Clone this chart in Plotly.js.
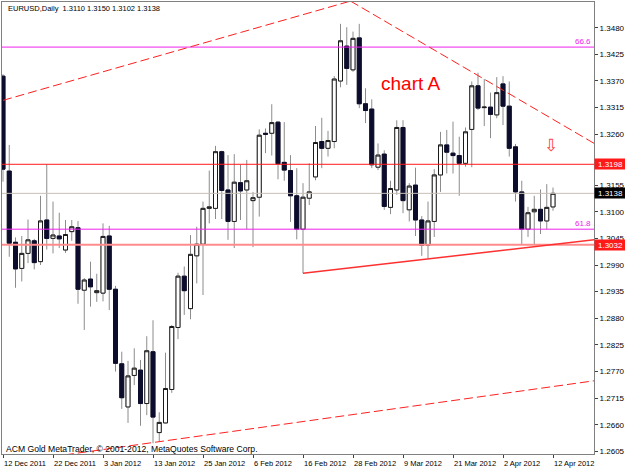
<!DOCTYPE html>
<html>
<head>
<meta charset="utf-8">
<script src="https://cdn.plot.ly/plotly-3.0.1.min.js"></script>
<style>html,body{margin:0;padding:0;background:#fff;}#chart{width:625px;height:469px;}</style>
</head>
<body>
<div id="chart"></div>
<script>
// ---- Daily EURUSD candles (12 Dec 2011 .. 12 Apr 2012) ----
const open  = [1.3380,1.3184,1.3037,1.2983,1.3014,1.3040,1.2997,1.3083,1.3045,1.3050,
               1.3021,1.3059,1.3067,1.2938,1.2961,1.2933,1.2932,1.3050,1.2940,1.2786,
               1.2697,1.2762,1.2773,1.2704,1.2811,1.2644,1.2664,1.2733,1.2861,1.2967,
               1.2900,1.3009,1.3033,1.3107,1.3107,1.3224,1.3145,1.3080,1.3160,1.3145,
               1.3123,1.3130,1.3262,1.3262,1.3285,1.3202,1.3185,1.3133,1.3064,1.3128,
               1.3172,1.3245,1.3231,1.3245,1.3370,1.3442,1.3393,1.3459,1.3323,1.3312,
               1.3192,1.3219,1.3109,1.3145,1.3274,1.3104,1.3155,1.3083,1.3031,1.3080,
               1.3176,1.3238,1.3221,1.3216,1.3200,1.3270,1.3360,1.3315,1.3316,1.3300,
               1.3364,1.3318,1.3234,1.3141,1.3064,1.3100,1.3105,1.3081,1.3110];
const high  = [1.3384,1.3238,1.3047,1.3050,1.3084,1.3044,1.3133,1.3198,1.3121,1.3098,
               1.3083,1.3083,1.3081,1.2963,1.2997,1.2972,1.3076,1.3071,1.2947,1.2811,
               1.2792,1.2818,1.2794,1.2843,1.2876,1.2686,1.2809,1.2866,1.2974,1.2987,
               1.3052,1.3069,1.3121,1.3185,1.3236,1.3226,1.3217,1.3219,1.3197,1.3207,
               1.3141,1.3270,1.3272,1.3322,1.3287,1.3285,1.3217,1.3190,1.3159,1.3200,
               1.3277,1.3294,1.3267,1.3380,1.3488,1.3481,1.3472,1.3488,1.3355,1.3332,
               1.3241,1.3227,1.3164,1.3289,1.3289,1.3159,1.3191,1.3091,1.3121,1.3188,
               1.3265,1.3269,1.3286,1.3255,1.3274,1.3369,1.3387,1.3374,1.3346,1.3378,
               1.3380,1.3369,1.3240,1.3164,1.3110,1.3133,1.3146,1.3157,1.3150];
const low   = [1.3162,1.3007,1.2943,1.2956,1.2994,1.2981,1.2990,1.3022,1.3014,1.3025,
               1.3015,1.3040,1.2910,1.2856,1.2904,1.2914,1.2915,1.2897,1.2770,1.2693,
               1.2664,1.2742,1.2658,1.2680,1.2622,1.2625,1.2663,1.2726,1.2837,1.2887,
               1.2878,1.2952,1.2928,1.3076,1.3085,1.3085,1.3042,1.3025,1.3083,1.3064,
               1.3027,1.3090,1.3221,1.3216,1.3167,1.3164,1.3079,1.3043,1.2973,1.3114,
               1.3165,1.3190,1.3214,1.3231,1.3357,1.3362,1.3389,1.3314,1.3283,1.3190,
               1.3186,1.3104,1.3095,1.3135,1.3097,1.3080,1.3050,1.3009,1.3004,1.3048,
               1.3141,1.3179,1.3179,1.3133,1.3193,1.3192,1.3310,1.3277,1.3252,1.3293,
               1.3279,1.3214,1.3121,1.3033,1.3048,1.3031,1.3054,1.3064,1.3102];
const close = [1.3188,1.3035,1.2982,1.3014,1.3042,1.2995,1.3081,1.3045,1.3052,1.3044,
               1.3053,1.3069,1.2940,1.2959,1.2945,1.2937,1.3049,1.2940,1.2787,1.2716,
               1.2761,1.2777,1.2704,1.2813,1.2676,1.2665,1.2735,1.2863,1.2967,1.2937,
               1.3012,1.3033,1.3107,1.3110,1.3224,1.3144,1.3080,1.3161,1.3143,1.3164,
               1.3129,1.3258,1.3260,1.3284,1.3199,1.3186,1.3133,1.3064,1.3130,1.3141,
               1.3243,1.3231,1.3247,1.3374,1.3453,1.3396,1.3458,1.3323,1.3309,1.3197,
               1.3217,1.3111,1.3148,1.3274,1.3123,1.3153,1.3083,1.3031,1.3081,1.3176,
               1.3238,1.3223,1.3216,1.3200,1.3265,1.3360,1.3314,1.3316,1.3301,1.3346,
               1.3318,1.3231,1.3141,1.3064,1.3098,1.3105,1.3081,1.3109,1.3138];

// ---- axis ticks ----
const dateTickIndex = [0, 8, 16, 24, 32, 40, 48, 56, 64, 72, 80, 88];
const dateTickLabels = ['12 Dec 2011','22 Dec 2011','3 Jan 2012','13 Jan 2012','25 Jan 2012','6 Feb 2012',
                        '16 Feb 2012','28 Feb 2012','9 Mar 2012','21 Mar 2012','2 Apr 2012','12 Apr 2012'];
const priceTicks = [1.3480,1.3425,1.3370,1.3315,1.3260,1.3205,1.3155,1.3100,1.3045,1.2990,
                    1.2935,1.2880,1.2825,1.2770,1.2715,1.2660,1.2605];

// ---- horizontal levels ----
const resistanceLevel = 1.3198;
const supportLevel = 1.3032;
const bidLevel = 1.3138;
const fibLevels = [1.3440, 1.3064];
const fibLabels = ['66.6', '61.8'];

// ---- trend lines (bar index, price) ----
const channelTopLeftX = [0, 55.6],     channelTopLeftY = [1.3330, 1.3535];
const channelTopRightX = [55.6, 94.6], channelTopRightY = [1.3535, 1.3241];
const channelBottomX = [9.9, 94.6],    channelBottomY = [1.2598, 1.2751];
const supportTrendX = [48, 94.6],      supportTrendY = [1.2973, 1.3042];

const titleText = 'EURUSD,Daily  1.3110 1.3150 1.3102 1.3138';
const copyrightText = 'ACM Gold MetaTrader, \u00a9 2001-2012, MetaQuotes Software Corp.';
const noteText = 'chart A';
const noteX = 60.2, noteY = 1.3364;
const arrowX = 87.6, arrowY = 1.3238;

const x = open.map((_, i) => i);
const bodyHigh = open.map((o, i) => Math.max(o, close[i]));
const bodyLow = open.map((o, i) => Math.min(o, close[i]));

const F = 'Liberation Sans, Arial, sans-serif';
const xr = [-0.16, 94.56];

const traces = [
  { type: 'candlestick', x, open, high, low, close, hoverinfo: 'skip', showlegend: false,
    increasing: { line: { color: '#8c8c8c', width: 1 }, fillcolor: '#ffffff' },
    decreasing: { line: { color: '#8c8c8c', width: 1 }, fillcolor: '#0c0c2c' } },
  { type: 'candlestick', x, open, high: bodyHigh, low: bodyLow, close, hoverinfo: 'skip', showlegend: false,
    increasing: { line: { color: '#1a1a1a', width: 1 }, fillcolor: '#ffffff' },
    decreasing: { line: { color: '#0c0c2c', width: 1 }, fillcolor: '#0c0c2c' } },
];

function hline(level, color, width) {
  return { type: 'scatter', mode: 'lines', x: [xr[0] - 2, xr[1] + 2], y: [level, level],
           line: { color, width }, hoverinfo: 'skip', showlegend: false };
}
function tline(xs, ys, color, width, dash) {
  return { type: 'scatter', mode: 'lines', x: xs, y: ys,
           line: { color, width, dash }, hoverinfo: 'skip', showlegend: false };
}
traces.push(hline(bidLevel, '#c8c0b8', 1));
traces.push(hline(fibLevels[0], '#ee22ee', 1));
traces.push(hline(fibLevels[1], '#ee22ee', 1));
traces.push(hline(supportLevel, '#ff8c8c', 2));
traces.push(hline(resistanceLevel, '#ff1a1a', 1));
traces.push(tline(channelTopLeftX, channelTopLeftY, '#ff2020', 1, '9px,4px'));
traces.push(tline(channelTopRightX, channelTopRightY, '#ff2020', 1, '9px,4px'));
traces.push(tline(channelBottomX, channelBottomY, '#ff2020', 1, '9px,4px'));
traces.push(tline(supportTrendX, supportTrendY, '#ff3030', 1.5, 'solid'));

const annotations = [
  { xref: 'paper', yref: 'paper', x: 0.006, y: 1 - 6 / 452, xanchor: 'left', yanchor: 'middle',
    text: titleText, showarrow: false, font: { family: F, size: 7.5, color: '#000' } },
  { xref: 'paper', yref: 'paper', x: 0.004, y: 1 - 447 / 452, xanchor: 'left', yanchor: 'middle',
    text: copyrightText, showarrow: false, font: { family: F, size: 8.6, color: '#000' } },
  { xref: 'x', yref: 'y', x: noteX, y: noteY, xanchor: 'left', yanchor: 'middle',
    text: noteText, showarrow: false, font: { family: F, size: 19, color: '#ff0000' } },
  { xref: 'x', yref: 'y', x: arrowX, y: arrowY, xanchor: 'center', yanchor: 'middle',
    text: '\u21e9', showarrow: false, font: { family: 'DejaVu Sans', size: 17, color: '#ff4040' } },
];
dateTickIndex.forEach((ix, k) => annotations.push({
  xref: 'x', yref: 'paper', x: ix, y: 0, xanchor: 'left', yanchor: 'top', xshift: -1, yshift: -3,
  text: dateTickLabels[k], showarrow: false, font: { family: F, size: 7.5, color: '#000' } }));
fibLevels.forEach((lv, k) => annotations.push({
  xref: 'paper', yref: 'y', x: 0.9985, y: lv, xanchor: 'right', yanchor: 'bottom', yshift: -1,
  text: fibLabels[k], showarrow: false, font: { family: F, size: 8, color: '#ee22ee' } }));
[[resistanceLevel, '#ff1a1a'], [bidLevel, '#000000'], [supportLevel, '#ff1a1a']].forEach(([lv, bg]) =>
  annotations.push({ xref: 'paper', yref: 'y', x: 1, y: lv, xanchor: 'left', yanchor: 'middle',
    text: lv.toFixed(4), showarrow: false, bgcolor: bg, width: 29, height: 8, borderpad: 1,
    font: { family: F, size: 8, color: '#ffffff' } }));

const layout = {
  width: 625, height: 469,
  margin: { l: 2, r: 31, t: 2, b: 15, pad: 0 },
  paper_bgcolor: '#ffffff', plot_bgcolor: '#ffffff',
  showlegend: false, hovermode: false,
  boxgap: 0.2, boxgroupgap: 0.2,
  xaxis: {
    range: xr, showgrid: false, zeroline: false, rangeslider: { visible: false },
    tickmode: 'array', tickvals: dateTickIndex, showticklabels: false,
    ticks: 'outside', ticklen: 3, tickcolor: '#404040', tickwidth: 1,
    showline: true, linecolor: '#808080', linewidth: 1, mirror: true, fixedrange: true
  },
  yaxis: {
    side: 'right', range: [1.25998, 1.35331], showgrid: false, zeroline: false,
    tickmode: 'array', tickvals: priceTicks, ticktext: priceTicks.map(v => v.toFixed(4)),
    ticks: 'outside', ticklen: 3, tickcolor: '#404040', tickwidth: 1,
    showline: true, linecolor: '#808080', linewidth: 1, mirror: true,
    tickfont: { family: F, size: 8, color: '#000' }, fixedrange: true
  },
  annotations
};

Plotly.newPlot('chart', traces, layout, { staticPlot: true, displayModeBar: false });
</script>
</body>
</html>
